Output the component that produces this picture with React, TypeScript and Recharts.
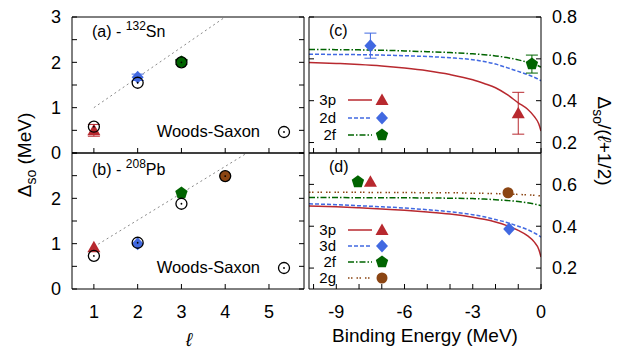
import React from "react";
import { ComposedChart, Scatter, Line, XAxis, YAxis, ErrorBar } from "recharts";

const W = 624;
const H = 352;
const FONT = "'Liberation Sans', Arial, Helvetica, sans-serif";

const RED = "#b8292f";
const BLUE = "#4169e1";
const GREEN = "#006400";
const BROWN = "#8b4513";
const GUIDE = "#8a8a8a";

// ---- left panels: Delta_so (MeV) vs l ----
const L_TICKS = [1, 2, 3, 4, 5];
const DSO_TICKS = [0, 0.5, 1, 1.5, 2, 2.5, 3];

// (a) 132Sn
const SN_3P = [{ x: 1, v: 0.5, err: 0.13 }];
const SN_2D = [{ x: 2, v: 1.67, err: 0.07 }];
const SN_2F = [{ x: 3, v: 2.01, err: 0.05 }];
const SN_WS = [
  { x: 1, v: 0.58 },
  { x: 2, v: 1.55 },
  { x: 3, v: 2.0 },
];
const SN_GUIDE = [
  { x: 1, v: 1.0 },
  { x: 4, v: 3.0 },
];

// (b) 208Pb
const PB_3P = [{ x: 1, v: 0.92 }];
const PB_3D = [{ x: 2, v: 1.0 }];
const PB_2F = [{ x: 3, v: 2.12 }];
const PB_2G = [{ x: 4, v: 2.49 }];
const PB_WS = [
  { x: 1, v: 0.73 },
  { x: 2, v: 1.02 },
  { x: 3, v: 1.88 },
  { x: 4, v: 2.49 },
];
const PB_GUIDE = [
  { x: 1, v: 0.93 },
  { x: 4.5, v: 3.0 },
];

// ---- right panels: Delta_so/(l+1/2) vs binding energy ----
const E_TICKS = [-10, -9, -8, -7, -6, -5, -4, -3, -2, -1, 0];
const E_LABELS = [-9, -6, -3, 0];
const E_GRID = [-10.2, -9, -8, -7, -6, -5, -4, -3, -2.5, -2, -1.5, -1, -0.6, -0.3, -0.1, 0];

// (c) 132Sn curves
const SN_3P_CURVE = [0.583, 0.578, 0.573, 0.566, 0.556, 0.543, 0.525, 0.5, 0.482, 0.462, 0.43, 0.39, 0.36, 0.325, 0.29, 0.255];
const SN_2D_CURVE = [0.622, 0.621, 0.62, 0.618, 0.615, 0.611, 0.605, 0.596, 0.587, 0.575, 0.558, 0.54, 0.525, 0.512, 0.502, 0.495];
const SN_2F_CURVE = [0.645, 0.644, 0.643, 0.641, 0.638, 0.634, 0.63, 0.624, 0.62, 0.614, 0.606, 0.595, 0.584, 0.574, 0.566, 0.56];
const SN_3P_E = [{ x: -1.0, v: 0.34, err: 0.1 }];
const SN_2D_E = [{ x: -7.5, v: 0.663, err: 0.06 }];
const SN_2F_E = [{ x: -0.4, v: 0.575, err: 0.043 }];

// (d) 208Pb curves
const PB_3P_CURVE = [0.497, 0.493, 0.488, 0.482, 0.476, 0.468, 0.458, 0.443, 0.433, 0.42, 0.403, 0.38, 0.355, 0.325, 0.29, 0.253];
const PB_3D_CURVE = [0.507, 0.503, 0.498, 0.493, 0.487, 0.479, 0.469, 0.455, 0.445, 0.432, 0.418, 0.4, 0.384, 0.368, 0.356, 0.348];
const PB_2F_CURVE = [0.537, 0.537, 0.536, 0.536, 0.536, 0.535, 0.534, 0.532, 0.53, 0.527, 0.523, 0.518, 0.512, 0.506, 0.501, 0.498];
const PB_2G_CURVE = [0.562, 0.562, 0.562, 0.561, 0.561, 0.56, 0.56, 0.558, 0.557, 0.556, 0.554, 0.552, 0.55, 0.548, 0.546, 0.545];
const PB_3P_E = [{ x: -7.5, v: 0.612 }];
const PB_3D_E = [{ x: -1.4, v: 0.387 }];
const PB_2F_E = [{ x: -8.05, v: 0.612 }];
const PB_2G_E = [{ x: -1.45, v: 0.56 }];

const curve = (vs: number[]) => E_GRID.map((x, i) => ({ x, v: vs[i] }));

// ---- marker shapes ----
const Tri = ({ cx, cy, fill = RED }: any) => (
  <polygon points={`${cx},${cy - 6.5} ${cx - 6.5},${cy + 5} ${cx + 6.5},${cy + 5}`} fill={fill} />
);
const Dia = ({ cx, cy, fill = BLUE }: any) => (
  <polygon points={`${cx},${cy - 6.5} ${cx + 6},${cy} ${cx},${cy + 6.5} ${cx - 6},${cy}`} fill={fill} />
);
const Pent = ({ cx, cy, fill = GREEN }: any) => {
  const p = [0, 1, 2, 3, 4]
    .map((k) => {
      const a = ((-90 + 72 * k) * Math.PI) / 180;
      return `${cx + 6.5 * Math.cos(a)},${cy + 6.5 * Math.sin(a)}`;
    })
    .join(" ");
  return <polygon points={p} fill={fill} />;
};
const Dot = ({ cx, cy, fill = BROWN }: any) => <circle cx={cx} cy={cy} r={5.5} fill={fill} />;
const WS = ({ cx, cy }: any) => (
  <g>
    <circle cx={cx} cy={cy} r={5.5} fill="none" stroke="#000" strokeWidth={1.3} />
    <circle cx={cx} cy={cy} r={0.9} fill="#000" />
  </g>
);

type Box = { left: number; top: number; right: number; bottom: number };

function Panel({
  box,
  side,
  xDomain,
  xTicks,
  xLabels,
  yDomain,
  yTicks,
  yLabels,
  children,
}: {
  box: Box;
  side: "left" | "right";
  xDomain: [number, number];
  xTicks: number[];
  xLabels?: number[];
  yDomain: [number, number];
  yTicks: number[];
  yLabels: number[];
  children: React.ReactNode;
}) {
  const xh = xLabels ? 40 : 1;
  const leftW = side === "left" ? box.left : 1;
  const rightW = side === "right" ? 60 : 1;
  const margin = {
    top: box.top - 1,
    bottom: H - box.bottom - xh,
    left: side === "left" ? 0 : box.left - 1,
    right: W - box.right - rightW,
  };
  const fmtY = (v: number) => (yLabels.includes(v) ? String(v) : "");
  const fmtX = (v: number) => (xLabels && xLabels.includes(v) ? String(v) : "");
  const none = () => "";
  const tick = { fontSize: 18, fill: "#000" };
  return (
    <div style={{ position: "absolute", left: 0, top: 0 }}>
      <ComposedChart width={W} height={H} margin={margin}>
        <XAxis xAxisId="b" dataKey="x" type="number" domain={xDomain} allowDataOverflow ticks={xTicks}
          interval={0} height={xh} tickSize={-5} tickMargin={21} tickFormatter={fmtX} tick={tick} stroke="#000" />
        <XAxis xAxisId="t" orientation="top" dataKey="x" type="number" domain={xDomain} allowDataOverflow
          height={1} tick={false} tickLine={false} stroke="#000" />
        <YAxis yAxisId="l" dataKey="v" type="number" domain={yDomain} allowDataOverflow ticks={yTicks}
          interval={0} width={leftW} tickSize={-5} tickMargin={16}
          tickFormatter={side === "left" ? fmtY : none} tick={tick} stroke="#000" />
        <YAxis yAxisId="r" orientation="right" dataKey="v" type="number" domain={yDomain} allowDataOverflow
          ticks={yTicks} interval={0} width={rightW} tickSize={-5} tickMargin={16}
          tickFormatter={side === "right" ? fmtY : none} tick={tick} stroke="#000" />
        {children}
      </ComposedChart>
    </div>
  );
}

const guide = (data: any[], key: string) => (
  <Line key={key} data={data} dataKey="v" xAxisId="b" yAxisId="l" type="linear" stroke={GUIDE}
    strokeWidth={1} strokeDasharray="2 3" dot={false} isAnimationActive={false} />
);
const pts = (data: any[], key: string, Shape: any, color?: string) => (
  <Scatter key={key} data={data} dataKey="v" xAxisId="b" yAxisId="l" isAnimationActive={false}
    shape={(p: any) => <Shape cx={p.cx} cy={p.cy} />}>
    {color ? <ErrorBar dataKey="err" direction="y" width={6} stroke={color} strokeWidth={1} /> : null}
  </Scatter>
);
const theory = (vs: number[], key: string, color: string, dash?: string) => (
  <Line key={key} data={curve(vs)} dataKey="v" xAxisId="b" yAxisId="l" type="monotone" stroke={color}
    strokeWidth={1.5} strokeDasharray={dash} dot={false} isAnimationActive={false} />
);

const DASH_2D = "4 2";
const DASH_2F = "6 2 1.5 2";
const DASH_2G = "1.5 1.5 1.5 4";

function LegendRow({ y, label, color, dash, Shape }: any) {
  return (
    <g>
      <text x={336} y={y + 5} textAnchor="end" fontSize={15}>{label}</text>
      <line x1={348} x2={372} y1={y} y2={y} stroke={color} strokeWidth={1.5} strokeDasharray={dash} />
      <Shape cx={382} cy={y} />
    </g>
  );
}

export default function App() {
  return (
    <div style={{ position: "absolute", left: 0, top: 0, width: W, height: H, background: "#fff", fontFamily: FONT }}>
      <Panel box={{ left: 72, top: 17, right: 304, bottom: 153 }} side="left" xDomain={[0.5, 5.8]} xTicks={L_TICKS}
        yDomain={[0, 3]} yTicks={DSO_TICKS} yLabels={[0, 1, 2, 3]}>
        {[
          guide(SN_GUIDE, "g"),
          pts(SN_3P, "p", Tri, RED),
          pts(SN_2D, "d", Dia, BLUE),
          pts(SN_2F, "f", Pent, GREEN),
          pts(SN_WS, "ws", WS),
        ]}
      </Panel>
      <Panel box={{ left: 72, top: 153, right: 304, bottom: 289 }} side="left" xDomain={[0.5, 5.8]} xTicks={L_TICKS}
        xLabels={L_TICKS} yDomain={[0, 3]} yTicks={DSO_TICKS} yLabels={[0, 1, 2]}>
        {[
          guide(PB_GUIDE, "g"),
          pts(PB_3P, "p", Tri),
          pts(PB_3D, "d", Dia),
          pts(PB_2F, "f", Pent),
          pts(PB_2G, "gg", Dot),
          pts(PB_WS, "ws", WS),
        ]}
      </Panel>
      <Panel box={{ left: 309, top: 17, right: 541, bottom: 153 }} side="right" xDomain={[-10.2, 0]} xTicks={E_TICKS}
        yDomain={[0.15, 0.8]} yTicks={[0.2, 0.4, 0.6, 0.8]} yLabels={[0.2, 0.4, 0.6, 0.8]}>
        {[
          theory(SN_3P_CURVE, "c1", RED),
          theory(SN_2D_CURVE, "c2", BLUE, DASH_2D),
          theory(SN_2F_CURVE, "c3", GREEN, DASH_2F),
          pts(SN_3P_E, "p", Tri, RED),
          pts(SN_2D_E, "d", Dia, BLUE),
          pts(SN_2F_E, "f", Pent, GREEN),
        ]}
      </Panel>
      <Panel box={{ left: 309, top: 153, right: 541, bottom: 289 }} side="right" xDomain={[-10.2, 0]} xTicks={E_TICKS}
        xLabels={E_LABELS} yDomain={[0.1, 0.75]} yTicks={[0.2, 0.4, 0.6]} yLabels={[0.2, 0.4, 0.6]}>
        {[
          theory(PB_2G_CURVE, "c4", BROWN, DASH_2G),
          theory(PB_2F_CURVE, "c3", GREEN, DASH_2F),
          theory(PB_3D_CURVE, "c2", BLUE, DASH_2D),
          theory(PB_3P_CURVE, "c1", RED),
          pts(PB_3P_E, "p", Tri),
          pts(PB_3D_E, "d", Dia),
          pts(PB_2F_E, "f", Pent),
          pts(PB_2G_E, "gg", Dot),
        ]}
      </Panel>

      <svg width={W} height={H} style={{ position: "absolute", left: 0, top: 0 }} fontFamily={FONT} fill="#000">
        {/* panel tags */}
        <text x={92} y={37} fontSize={16}>
          (a) - <tspan dy={-7} fontSize={12}>132</tspan><tspan dy={7}>Sn</tspan>
        </text>
        <text x={92} y={175} fontSize={16}>
          (b) - <tspan dy={-7} fontSize={12}>208</tspan><tspan dy={7}>Pb</tspan>
        </text>
        <text x={329} y={36} fontSize={16}>(c)</text>
        <text x={329} y={172} fontSize={16}>(d)</text>

        {/* Woods-Saxon keys */}
        <text x={260} y={137} textAnchor="end" fontSize={16.5}>Woods-Saxon</text>
        <WS cx={284} cy={132} />
        <text x={260} y={273} textAnchor="end" fontSize={16.5}>Woods-Saxon</text>
        <WS cx={284} cy={268} />

        {/* legend (c) */}
        <LegendRow y={100} label="3p" color={RED} Shape={Tri} />
        <LegendRow y={118} label="2d" color={BLUE} dash={DASH_2D} Shape={Dia} />
        <LegendRow y={135} label="2f" color={GREEN} dash={DASH_2F} Shape={Pent} />

        {/* legend (d) */}
        <LegendRow y={230} label="3p" color={RED} Shape={Tri} />
        <LegendRow y={246} label="3d" color={BLUE} dash={DASH_2D} Shape={Dia} />
        <LegendRow y={262} label="2f" color={GREEN} dash={DASH_2F} Shape={Pent} />
        <LegendRow y={278} label="2g" color={BROWN} dash={DASH_2G} Shape={Dot} />

        {/* axis titles */}
        <text transform="translate(31,155) rotate(-90)" textAnchor="middle" fontSize={19}>
          Δ<tspan fontSize={14} dy={5}>so</tspan><tspan dy={-5}> (MeV)</tspan>
        </text>
        <text transform="translate(598,141) rotate(90)" textAnchor="middle" fontSize={19}>
          Δ<tspan fontSize={14} dy={5}>so</tspan><tspan dy={-5}>/(</tspan>
          <tspan fontStyle="italic">ℓ</tspan>+1/2)
        </text>
        <text x={189} y={346} textAnchor="middle" fontSize={19} fontStyle="italic">ℓ</text>
        <text x={425} y={342} textAnchor="middle" fontSize={19}>Binding Energy (MeV)</text>
      </svg>
    </div>
  );
}
